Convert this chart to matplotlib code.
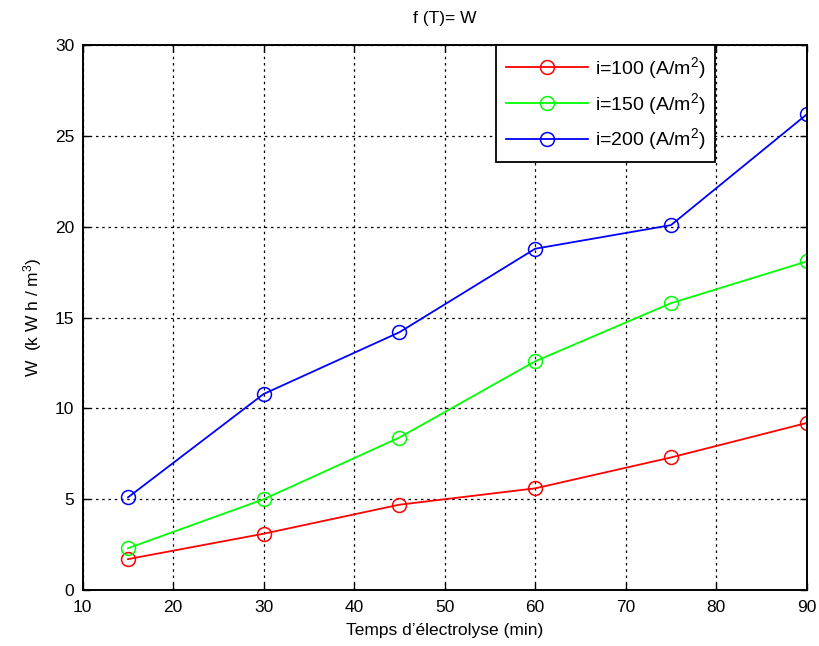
import matplotlib
matplotlib.use("Agg")
import matplotlib.pyplot as plt

plt.rcParams['font.family'] = ['Liberation Sans', 'DejaVu Sans']

temps = [15, 30, 45, 60, 75, 90]
w_100 = [1.7, 3.1, 4.7, 5.6, 7.3, 9.2]
w_150 = [2.3, 5.0, 8.4, 12.6, 15.8, 18.1]
w_200 = [5.1, 10.8, 14.2, 18.8, 20.1, 26.2]

series = [
    (w_100, '#ff0000', r'i=100 (A/m$^{2}$)'),
    (w_150, '#00ff00', r'i=150 (A/m$^{2}$)'),
    (w_200, '#0000ff', r'i=200 (A/m$^{2}$)'),
]

x_ticks = [10, 20, 30, 40, 50, 60, 70, 80, 90]
y_ticks = [0, 5, 10, 15, 20, 25, 30]

plt.rcParams['mathtext.fontset'] = 'custom'
plt.rcParams['mathtext.rm'] = 'Liberation Sans'
plt.rcParams['mathtext.it'] = 'Liberation Sans'

fig = plt.figure(figsize=(8.19, 6.46), dpi=100)
ax = fig.add_axes([0.101, 0.0867, 0.884, 0.843])

for vals, col, lab in series:
    ax.plot(temps, vals, color=col, lw=1.3, marker='o', ms=10,
            mfc='none', mec=col, mew=1.1, label=lab)

ax.set_xlim(10, 90)
ax.set_ylim(0, 30)
ax.set_xticks(x_ticks)
ax.set_yticks(y_ticks)
ax.tick_params(direction='in', top=True, right=True, length=5,
               labelsize=12.5, width=1)
ax.tick_params(axis='x', pad=7)
ax.tick_params(axis='y', pad=6)
ax.grid(True, color='black', linestyle=(0, (2, 3)), linewidth=0.9)
for sp in ax.spines.values():
    sp.set_linewidth(1.4)

ax.set_title('f (T)= W', fontsize=12.5, pad=16)
ax.set_xlabel("Temps d\u2019\u00e9lectrolyse (min)", fontsize=12.5, labelpad=6)
ax.set_ylabel(r'W  (k W h / m$^{3}$)', fontsize=12.5, labelpad=8)

leg = ax.legend(loc='upper right', bbox_to_anchor=(0.874, 1.0), fontsize=14,
                fancybox=False, framealpha=1, edgecolor='black',
                borderaxespad=0.0, borderpad=0.5, handlelength=4.2,
                handletextpad=0.4, labelspacing=0.5)
leg.get_frame().set_linewidth(1.3)

fig.savefig('out.png', dpi=100)
